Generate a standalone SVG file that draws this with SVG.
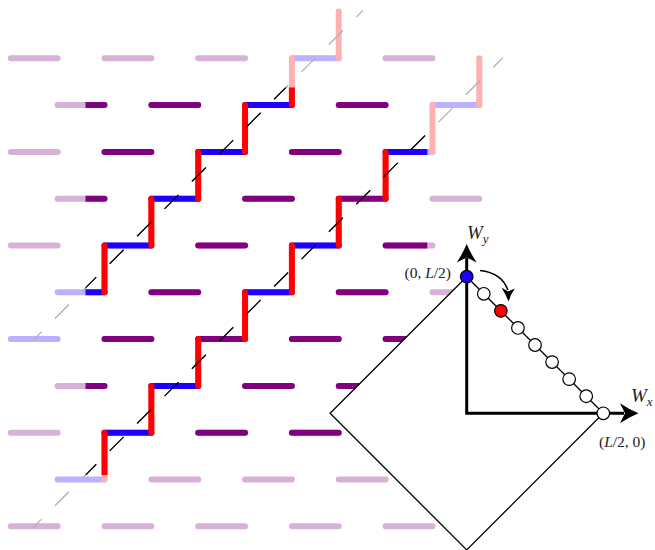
<svg xmlns="http://www.w3.org/2000/svg" xmlns:xlink="http://www.w3.org/1999/xlink" width="655" height="550" viewBox="0 0 655 550">
<style>
.seg{fill:none;stroke-width:6;stroke-linecap:round}
.pur{stroke:#800080}
.blu{stroke:#1e00ff}
.red{stroke:#ff0000}
.dash{fill:none;stroke:#000;stroke-width:1.3;stroke-dasharray:19.8 18.95;stroke-dashoffset:7.8}
.lbl{font-family:"Liberation Serif","Times New Roman",serif;fill:#222}
.it{font-style:italic}
.site{stroke:#000;stroke-width:1.2}
.ax{fill:none;stroke:#000;stroke-width:3}
</style>
<defs>
<clipPath id="inner"><rect x="85.5" y="87.5" width="341.8" height="387.5"/></clipPath>
<g id="lattice">
<path class="seg pur" d="M10.8,58.3H57.65 M104.5,58.3H151.35 M198.2,58.3H245.05 M385.6,58.3H432.45
M57.65,105.1H104.5 M151.35,105.1H198.2 M338.75,105.1H385.6
M10.8,151.9H57.65 M104.5,151.9H151.35 M291.9,151.9H338.75
M57.65,198.7H104.5 M245.05,198.7H291.9 M338.75,198.7H385.6 M432.45,198.7H479.3
M10.8,245.5H57.65 M198.2,245.5H245.05 M385.6,245.5H432.45
M151.35,292.3H198.2 M338.75,292.3H385.6 M432.45,292.3H479.3
M104.5,339.1H151.35 M198.2,339.1H245.05 M291.9,339.1H338.75 M385.6,339.1H432.45
M57.65,385.9H104.5 M245.05,385.9H291.9 M338.75,385.9H385.6 M432.45,385.9H479.3
M10.8,432.7H57.65 M198.2,432.7H245.05 M291.9,432.7H338.75 M385.6,432.7H432.45
M151.35,479.5H198.2 M245.05,479.5H291.9 M338.75,479.5H385.6 M432.45,479.5H479.3
M10.8,526.3H57.65 M104.5,526.3H151.35 M198.2,526.3H245.05 M291.9,526.3H338.75 M385.6,526.3H432.45"/>
<path class="seg blu" d="M57.65,479.5H104.5 M104.5,432.7H151.35 M151.35,385.9H198.2 M245.05,292.3H291.9 M291.9,245.5H338.75 M385.6,151.9H432.45 M432.45,105.1H479.3
M57.65,292.3H104.5 M104.5,245.5H151.35 M151.35,198.7H198.2 M198.2,151.9H245.05 M245.05,105.1H291.9 M291.9,58.3H338.75
M10.8,339.1H57.65"/>
<path class="seg red" d="M104.5,479.5V432.7 M151.35,432.7V385.9 M198.2,385.9V339.1 M245.05,339.1V292.3 M291.9,292.3V245.5 M338.75,245.5V198.7 M385.6,198.7V151.9 M432.45,151.9V105.1 M479.3,105.1V58.3
M104.5,292.3V245.5 M151.35,245.5V198.7 M198.2,198.7V151.9 M245.05,151.9V105.1 M291.9,105.1V58.3 M338.75,58.3V11.5"/>
<path class="dash" d="M33,527.6L503,57.6"/>
<path class="dash" d="M33,340.4L363,10.4"/>
</g>
</defs>
<g id="lattice-faded" opacity="0.3"><use xlink:href="#lattice" href="#lattice"/></g>
<g id="lattice-window" clip-path="url(#inner)"><use xlink:href="#lattice" href="#lattice"/></g>
<g id="diamond">
<polygon points="466.7,276.7 330.1,413.3 466.7,549.9 603.3,413.3" fill="#fff" stroke="#000" stroke-width="1.3"/>
</g>
<g id="axes">
<path class="ax" d="M466.7,258V413.3H624"/>
<path d="M466.7,244 Q462.5,254 456.7,262.5 L466.7,257.5 L476.7,262.5 Q470.9,254 466.7,244Z" fill="#000"/>
<path d="M638.5,413.3 Q628.5,409.1 620,403.3 L625,413.3 L620,423.3 Q628.5,417.5 638.5,413.3Z" fill="#000"/>
</g>
<g id="rotation-arrow">
<path d="M480,270.5 C494,272 504,279 507.8,290" fill="none" stroke="#000" stroke-width="1.5"/>
<path d="M508.6,301.5 Q505,293 501.5,287.5 L508,291.5 L514.8,288.5 Q510.8,294 508.6,301.5Z" fill="#000"/>
</g>
<g id="site-0"><circle class="site" cx="466.7" cy="276.7" r="6.3" fill="#1e00ff"/></g>
<g id="site-1"><circle class="site" cx="483.78" cy="293.78" r="6.3" fill="#fff"/></g>
<g id="site-2"><circle class="site" cx="500.85" cy="310.85" r="6.3" fill="#ff0000"/></g>
<g id="site-3"><circle class="site" cx="517.93" cy="327.93" r="6.3" fill="#fff"/></g>
<g id="site-4"><circle class="site" cx="535" cy="345" r="6.3" fill="#fff"/></g>
<g id="site-5"><circle class="site" cx="552.08" cy="362.08" r="6.3" fill="#fff"/></g>
<g id="site-6"><circle class="site" cx="569.15" cy="379.15" r="6.3" fill="#fff"/></g>
<g id="site-7"><circle class="site" cx="586.23" cy="396.23" r="6.3" fill="#fff"/></g>
<g id="site-8"><circle class="site" cx="603.3" cy="413.3" r="6.3" fill="#fff"/></g>
<g id="label-wy"><text class="lbl" x="467" y="239" font-size="19"><tspan class="it">W</tspan><tspan class="it" font-size="13" dy="4">y</tspan></text></g>
<g id="label-wx"><text class="lbl" x="631" y="402" font-size="19"><tspan class="it">W</tspan><tspan class="it" font-size="13" dy="4">x</tspan></text></g>
<g id="label-top"><text class="lbl" x="451" y="278" font-size="15.5" text-anchor="end">(0, <tspan class="it">L</tspan>/2)</text></g>
<g id="label-right"><text class="lbl" x="599" y="447" font-size="15.5">(<tspan class="it">L</tspan>/2, 0)</text></g>
</svg>
